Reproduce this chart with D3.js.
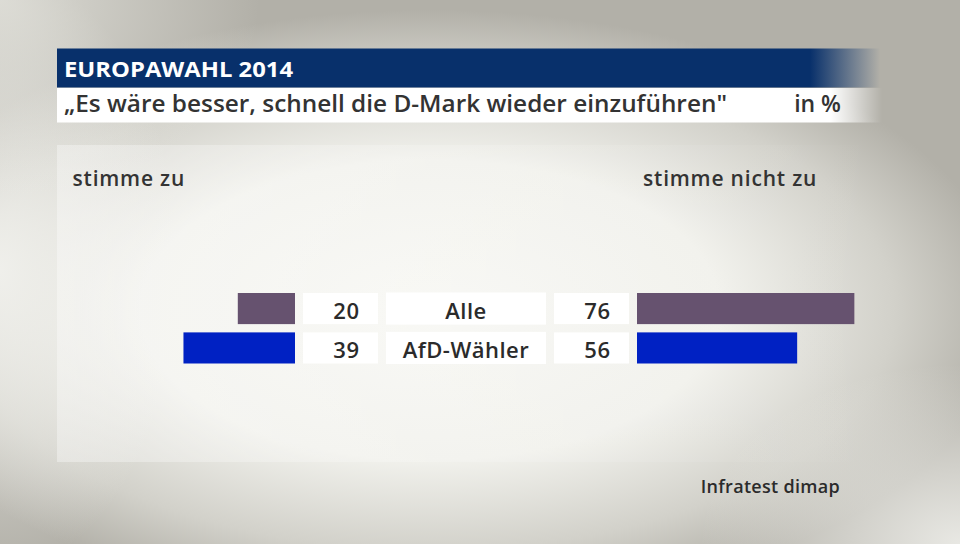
<!DOCTYPE html>
<html><head><meta charset="utf-8">
<script src="https://cdn.jsdelivr.net/npm/d3@7"></script>
<style>body{margin:0;padding:0;overflow:hidden;background:#b3b1a9}svg{display:block}</style>
</head><body>
<svg id="chart" width="960" height="544"></svg>
<script>
const title = "EUROPAWAHL 2014";
const subtitle = "„Es wäre besser, schnell die D-Mark wieder einzuführen\"";
const unit = "in %";
const leftHeader = "stimme zu";
const rightHeader = "stimme nicht zu";
const source = "Infratest dimap";
const categories = ["Alle", "AfD-Wähler"];
const agree = [20, 39];
const disagree = [76, 56];
const colors = ["#66526f", "#0021c3"];

const svg = d3.select("#chart");
const defs = svg.append("defs");
function radial(id, cx, cy, rx, ry, stops) {
  const g = defs.append("radialGradient").attr("id", id)
    .attr("gradientUnits","userSpaceOnUse").attr("cx",0).attr("cy",0).attr("r",1)
    .attr("gradientTransform",`translate(${cx},${cy}) scale(${rx},${ry})`);
  stops.forEach(s => g.append("stop").attr("offset",s[0]).attr("stop-color",s[1]).attr("stop-opacity",s[2]));
}
radial("bgMain", 430, 310, 580, 300, [[0,"#f7f7f3",1],[0.5,"#f1f1ec",1],[0.8,"#d2d1ca",1],[1,"#b2b0a8",1]]);
radial("gLeft", 0, 270, 180, 300, [[0,"#f2f2ee",0.9],[1,"#f2f2ee",0]]);
radial("gTL", 0, 0, 260, 200, [[0,"#ecece6",0.7],[1,"#ecece6",0]]);
radial("gBR", 960, 544, 260, 180, [[0,"#f2f2ee",0.85],[1,"#f2f2ee",0]]);

const hg = defs.append("linearGradient").attr("id","hg").attr("gradientUnits","userSpaceOnUse")
  .attr("x1",810).attr("x2",880).attr("y1",0).attr("y2",0);
hg.append("stop").attr("offset","0").attr("stop-color","#08306b").attr("stop-opacity",1);
hg.append("stop").attr("offset","1").attr("stop-color","#08306b").attr("stop-opacity",0);
const sg = defs.append("linearGradient").attr("id","sg").attr("gradientUnits","userSpaceOnUse")
  .attr("x1",830).attr("x2",882).attr("y1",0).attr("y2",0);
sg.append("stop").attr("offset","0").attr("stop-color","#ffffff").attr("stop-opacity",1);
sg.append("stop").attr("offset","1").attr("stop-color","#ffffff").attr("stop-opacity",0);
const pg = defs.append("linearGradient").attr("id","pg").attr("x1",0).attr("x2",1).attr("y1",0).attr("y2",0);
pg.append("stop").attr("offset","0").attr("stop-color","#ffffff").attr("stop-opacity",0.35);
pg.append("stop").attr("offset","0.6").attr("stop-color","#ffffff").attr("stop-opacity",0.12);
pg.append("stop").attr("offset","1").attr("stop-color","#ffffff").attr("stop-opacity",0.0);

svg.append("rect").attr("width",960).attr("height",544).attr("fill","#b2b0a8");
svg.append("rect").attr("width",960).attr("height",544).attr("fill","url(#bgMain)");
svg.append("rect").attr("width",960).attr("height",544).attr("fill","url(#gLeft)");
svg.append("rect").attr("width",960).attr("height",544).attr("fill","url(#gTL)");
svg.append("rect").attr("width",960).attr("height",544).attr("fill","url(#gBR)");
svg.append("rect").attr("x",57).attr("y",145).attr("width",823).attr("height",317).attr("fill","url(#pg)");

const font = "'Open Sans', sans-serif";
svg.append("rect").attr("x",57).attr("y",48.5).attr("width",823).attr("height",39).attr("fill","url(#hg)");
svg.append("text").attr("x",64).attr("y",76.5).text(title)
  .attr("font-family",font).attr("font-weight",700).attr("font-size",21.5).attr("fill","#fff")
  .attr("textLength",229).attr("lengthAdjust","spacingAndGlyphs");
svg.append("rect").attr("x",57).attr("y",88).attr("width",825).attr("height",34.5).attr("fill","url(#sg)");
svg.append("text").attr("x",64).attr("y",112).text(subtitle)
  .attr("font-family",font).attr("font-weight",600).attr("font-size",23).attr("fill","#333")
  .attr("textLength",663).attr("lengthAdjust","spacingAndGlyphs");
svg.append("text").attr("x",841).attr("y",112).attr("text-anchor","end").text(unit)
  .attr("font-family",font).attr("font-weight",600).attr("font-size",23).attr("fill","#333");

const hdr = s => s.attr("font-family",font).attr("font-weight",600).attr("font-size",21)
  .attr("letter-spacing",0.8).attr("fill","#333");
svg.append("text").attr("x",72.5).attr("y",186).text(leftHeader).call(hdr);
svg.append("text").attr("x",643).attr("y",186).text(rightHeader).call(hdr);

const xs = d3.scaleLinear().domain([0,100]).range([0,286]);
const y = d3.scaleBand().domain(categories).range([293,363.5]).paddingInner(0.21);
const leftEdge = 295, rightEdge = 637;

const rows = categories.map((c,i)=>({c, a:agree[i], d:disagree[i], col:colors[i]}));
const g = svg.append("g");
const row = g.selectAll("g.row").data(rows).join("g").attr("class","row");

row.append("rect").attr("x",d=>leftEdge - xs(d.a)).attr("y",d=>y(d.c))
  .attr("width",d=>xs(d.a)).attr("height",y.bandwidth()).attr("fill",d=>d.col);
row.append("rect").attr("x",rightEdge).attr("y",d=>y(d.c))
  .attr("width",d=>xs(d.d)).attr("height",y.bandwidth()).attr("fill",d=>d.col);

row.append("rect").attr("x",303).attr("y",d=>y(d.c)).attr("width",75).attr("height",y.bandwidth()).attr("fill","#fff");
row.append("rect").attr("x",386).attr("y",d=>y(d.c)-0.5).attr("width",160).attr("height",y.bandwidth()+1).attr("fill","#fff");
row.append("rect").attr("x",554).attr("y",d=>y(d.c)).attr("width",75).attr("height",y.bandwidth()).attr("fill","#fff");

const tcommon = s => s.attr("font-family",font).attr("font-weight",600).attr("font-size",22)
  .attr("letter-spacing",0.5).attr("fill","#2b2b2b");
const base = d => y(d.c) + 25.5;
row.append("text").attr("x",359.5).attr("y",base).attr("text-anchor","end").text(d=>d.a).call(tcommon);
row.append("text").attr("x",466).attr("y",base).attr("text-anchor","middle").text(d=>d.c).call(tcommon);
row.append("text").attr("x",610.5).attr("y",base).attr("text-anchor","end").text(d=>d.d).call(tcommon);

svg.append("text").attr("x",840).attr("y",493).attr("text-anchor","end").text(source)
  .attr("font-family",font).attr("font-weight",600).attr("font-size",18).attr("letter-spacing",0.3).attr("fill","#2b2b2b");
</script>
</body></html>
